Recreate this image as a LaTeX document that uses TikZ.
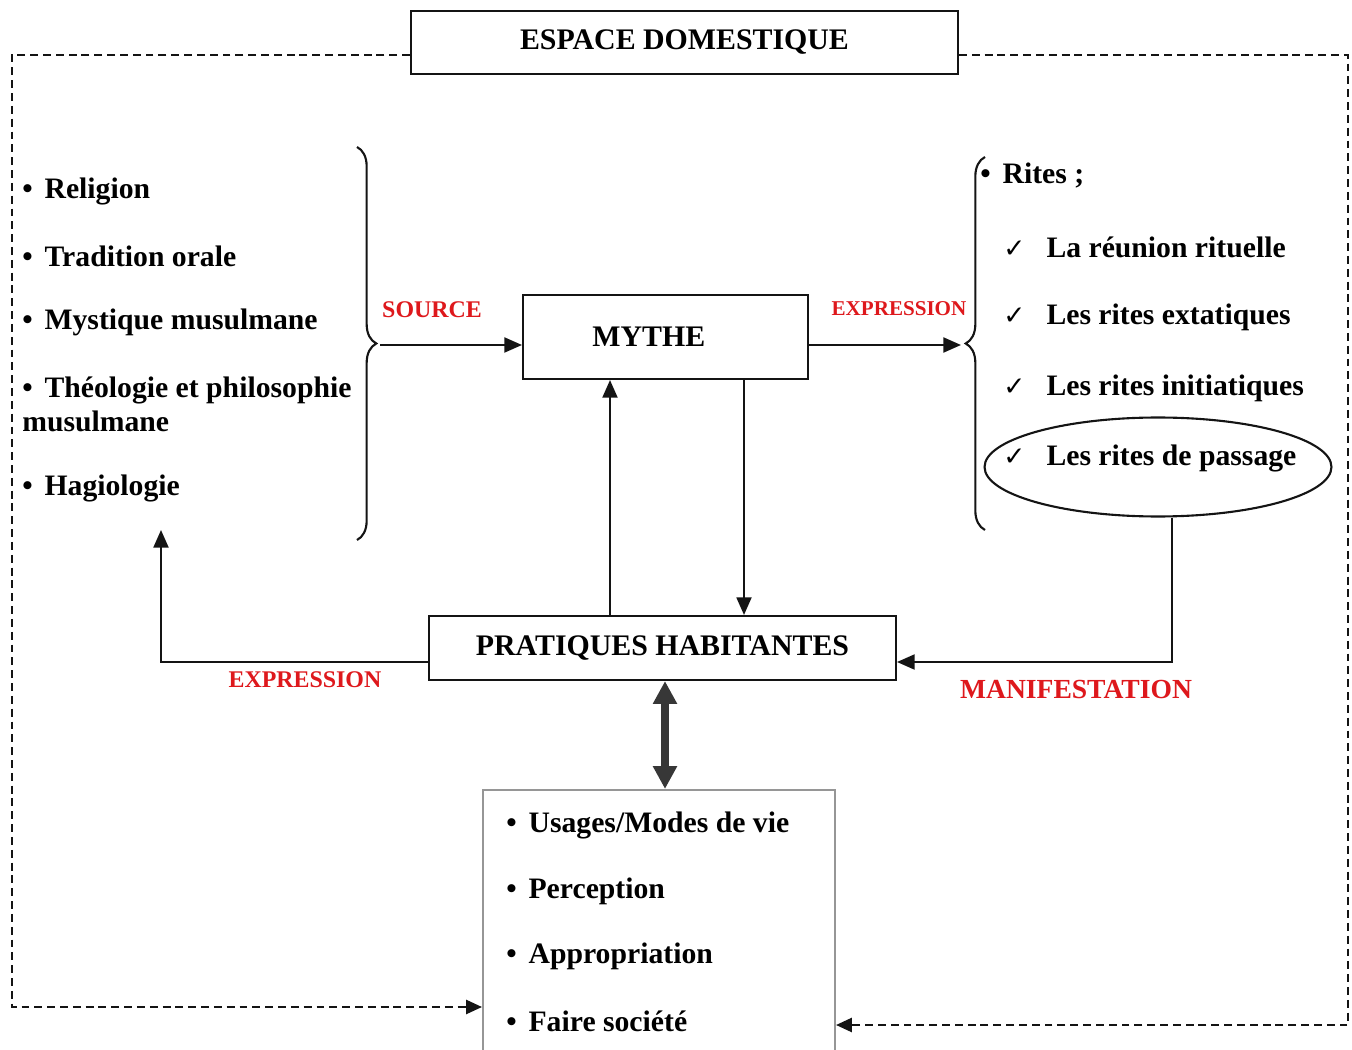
\documentclass[tikz,border=0pt]{standalone}
\usepackage{fontspec}
\setmainfont{Liberation Serif}
\newfontfamily\symbfont{DejaVu Sans}
\usetikzlibrary{arrows.meta,positioning,shapes.geometric,decorations.pathreplacing}
\definecolor{rouge}{RGB}{222,24,28}
\definecolor{ink}{RGB}{20,20,20}
\definecolor{boxgrey}{RGB}{150,150,150}
\definecolor{twowaygrey}{RGB}{55,55,55}
\newcommand{\chk}{{\fontsize{15}{15}\selectfont\symbfont ✓}\hspace{12pt}}
\newcommand{\blt}{\textbullet\hspace{0.4em}}

\begin{document}
\begin{tikzpicture}[x=0.02cm,y=-0.02cm,
  box/.style={draw=ink,line width=1.2pt,inner sep=0pt,
              font=\fontsize{17}{20}\selectfont\bfseries},
  item/.style={anchor=west,inner sep=0pt,align=left,
               font=\fontsize{16.9}{19.3}\selectfont\bfseries},
  lbl/.style={text=rouge,inner sep=0pt,font=\fontsize{13.6}{15}\selectfont\bfseries},
  arr/.style={-{Triangle[length=10pt,width=8.5pt]},line width=1.2pt,draw=ink},
  domframe/.style={-{Triangle[length=9pt,width=8pt]},line width=1.2pt,draw=ink,
                   dash pattern=on 4.5pt off 2.8pt},
  curly/.style={decorate,decoration={brace,amplitude=11pt},line width=1.2pt,draw=ink},
  twoway/.style={{Triangle[length=13pt,width=13pt]}-{Triangle[length=13pt,width=13pt]},
                 line width=4.5pt,draw=twowaygrey}]
\useasboundingbox (0,0) rectangle (1352,1050);

\node[box,minimum width=10.94cm,minimum height=1.26cm] (title) at (684.5,42.5) {ESPACE DOMESTIQUE};
\node[box,minimum width=5.7cm,minimum height=1.68cm] (mythe) at (665.5,337) {MYTHE\hspace*{19pt}};
\node[box,minimum width=9.34cm,minimum height=1.28cm] (pratiques) at (662.5,648) {PRATIQUES HABITANTES};
\node[box,draw=boxgrey,minimum width=7.04cm,minimum height=5.6cm] (usages) at (659,930) {};

\node[item] (rel) at (22,191) {\blt Religion};
\node[item] (trad) at (22,256) {\blt Tradition orale};
\node[item] (myst) at (22,322) {\blt Mystique musulmane};
\node[item] (theo) at (22,404) {\blt Théologie et philosophie\\musulmane};
\node[item] (hagio) at (22,488) {\blt Hagiologie};

\node[item] (rites) at (980,176) {\blt Rites ;};
\node[item] (reunion) at (1003,247) {\chk La réunion rituelle};
\node[item] (extat) at (1003,317) {\chk Les rites extatiques};
\node[item] (initia) at (1003,388) {\chk Les rites initiatiques};
\node[item] (passage) at (1003,458) {\chk Les rites de passage};
\node[draw=ink,line width=1.2pt,ellipse,inner sep=0pt,
      minimum width=6.94cm,minimum height=1.98cm] (ring) at (1158,467) {};

\node[item] (modes) at (506,825) {\blt Usages/Modes de vie};
\node[item] (percep) at (506,891) {\blt Perception};
\node[item] (approp) at (506,956) {\blt Appropriation};
\node[item] (societe) at (506,1021) {\blt Faire société};

\node[lbl] (source) at (432,310) {SOURCE};
\node[lbl,font=\fontsize{12}{14}\selectfont\bfseries] (exprtop) at (899,309) {EXPRESSION};
\node[lbl] (exprlow) at (305,680) {EXPRESSION};
\node[lbl,font=\fontsize{15.7}{17}\selectfont\bfseries] (manifest) at (1076,689) {MANIFESTATION};

\draw[curly] (357,147) -- (357,540);
\draw[curly] (985,530) -- (985,157);

\coordinate (srctip) at (380,345);
\coordinate (exptip) at (961,345);
\draw[arr] (srctip) -- (srctip -| mythe.west);
\draw[arr] (exptip -| mythe.east) -- (exptip);

\coordinate (upfoot) at (610,616);
\coordinate (downtop) at (744,379);
\draw[arr] (upfoot) -- (upfoot |- mythe.south);
\draw[arr] (downtop) -- (downtop |- pratiques.north);

\coordinate (lowleft) at (161,662);
\coordinate (lefthead) at (161,530);
\draw[arr] (lowleft -| pratiques.west) -- (lowleft) -- (lefthead);

\coordinate (manif) at (1172,662);
\draw[arr] (ring.south -| manif) -- (manif) -- (manif -| pratiques.east);

\coordinate (dbl) at (665,700);
\draw[twoway] (pratiques.south -| dbl) -- (usages.north -| dbl);

\coordinate (fl1) at (12,55);
\coordinate (fl2) at (12,1007);
\coordinate (fr1) at (1348,55);
\coordinate (fr2) at (1348,1025);
\draw[domframe] (fl1 -| title.west) -- (fl1) -- (fl2) -- (fl2 -| usages.west);
\draw[domframe] (fr1 -| title.east) -- (fr1) -- (fr2) -- (fr2 -| usages.east);
\end{tikzpicture}
\end{document}
